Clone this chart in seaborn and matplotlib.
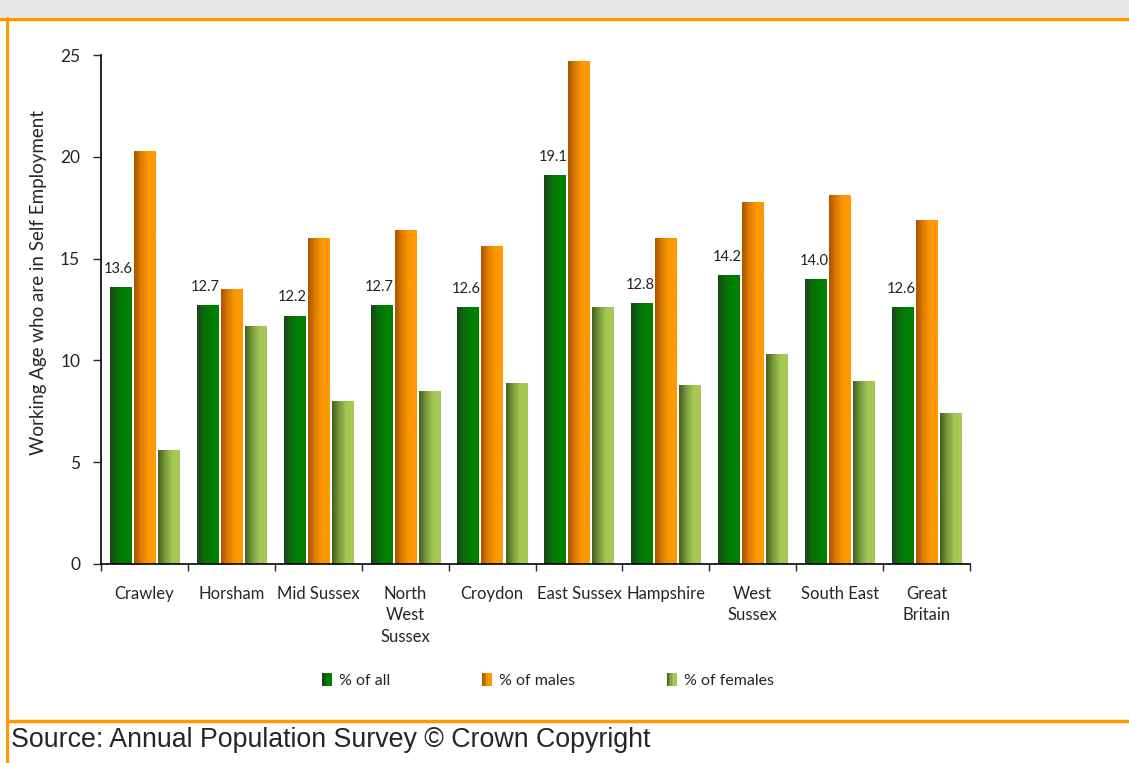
import numpy as np
import pandas as pd
import matplotlib
matplotlib.use('Agg')
import matplotlib.pyplot as plt
import seaborn as sns
from matplotlib.colors import LinearSegmentedColormap
from matplotlib.patches import Rectangle, Patch
from matplotlib.legend_handler import HandlerBase

# ---------------------------------------------------------------------------
# Data
# ---------------------------------------------------------------------------
areas = ['Crawley', 'Horsham', 'Mid Sussex', 'North\nWest\nSussex', 'Croydon',
         'East Sussex', 'Hampshire', 'West\nSussex', 'South East', 'Great\nBritain']
pct_all = [13.6, 12.7, 12.2, 12.7, 12.6, 19.1, 12.8, 14.2, 14.0, 12.6]
pct_males = [20.3, 13.5, 16.0, 16.4, 15.6, 24.7, 16.0, 17.8, 18.1, 16.9]
pct_females = [5.6, 11.7, 8.0, 8.5, 8.9, 12.6, 8.8, 10.3, 9.0, 7.4]
series = ['% of all', '% of males', '% of females']

# gradient (left -> right) for each series
GRADIENTS = {
    '% of all': ['#1b421b', '#0a6e0a', '#008000', '#008000'],
    '% of males': ['#a85400', '#e07f00', '#ff9900', '#ff9900'],
    '% of females': ['#455d22', '#7a9c3c', '#a6c854', '#a6c854'],
}

df = pd.DataFrame({'area': areas * 3,
                   'value': pct_all + pct_males + pct_females,
                   'series': np.repeat(series, len(areas))})

FONT = ['Lato', 'DejaVu Sans']

sns.set_style('white')
plt.rcParams['font.family'] = FONT

fig = plt.figure(figsize=(11.29, 7.63), dpi=100)
ax = fig.add_axes([101 / 1129, 1 - 564 / 763, 869 / 1129, 509 / 763])

palette = {s: GRADIENTS[s][2] for s in series}
sns.barplot(data=df, x='area', y='value', hue='series', order=areas,
            hue_order=series, palette=palette, width=0.83, gap=0.12,
            saturation=1, legend=False, ax=ax)

# replace flat fills with a horizontal gradient clipped to each bar
grad = np.linspace(0, 1, 64).reshape(1, -1)
for container, s in zip(ax.containers, series):
    cmap = LinearSegmentedColormap.from_list(s, GRADIENTS[s])
    for bar in container:
        x0, w, h = bar.get_x(), bar.get_width(), bar.get_height()
        im = ax.imshow(grad, extent=[x0, x0 + w, 0, h], aspect='auto',
                       cmap=cmap, interpolation='bicubic', zorder=2)
        im.set_clip_path(bar)
        bar.set_facecolor('none')
        bar.set_edgecolor('none')

# value labels only on the "% of all" series
for bar, v in zip(ax.containers[0], pct_all):
    ax.text(bar.get_x() + bar.get_width() / 2 - 0.02, v + 0.55, f'{v:.1f}',
            ha='center', va='bottom', fontsize=10.5, color='#222222', zorder=3)

ax.set_xlim(-0.5, len(areas) - 0.5)
ax.set_ylim(0, 25)
ax.set_yticks([0, 5, 10, 15, 20, 25])
ax.set_xticks(np.arange(-0.5, len(areas)), [''] * (len(areas) + 1))
ax.set_xticks(np.arange(len(areas)), areas, minor=True)
ax.tick_params(axis='x', which='major', length=5, width=1, direction='out', bottom=True)
ax.tick_params(axis='x', which='minor', length=0, pad=16, labelsize=12)
ax.tick_params(axis='y', length=6, width=1, direction='out', left=True, labelsize=12.5, pad=9)
for lab in ax.get_xticklabels(minor=True):
    lab.set_linespacing(1.4)
    lab.set_verticalalignment('top')

for side in ['top', 'right']:
    ax.spines[side].set_visible(False)
for side in ['left', 'bottom']:
    ax.spines[side].set_color('black')
    ax.spines[side].set_linewidth(1.2)

ax.set_xlabel('')
ax.set_ylabel('Working Age who are in Self Employment', fontsize=13.5)
ax.yaxis.set_label_coords(-0.0625, 0.554)


# legend with small gradient swatches
class GradientHandler(HandlerBase):
    def create_artists(self, legend, orig_handle, xdescent, ydescent,
                       width, height, fontsize, trans):
        cols = GRADIENTS[orig_handle.get_label()]
        cmap = LinearSegmentedColormap.from_list('h', cols)
        n = 8
        arts = []
        for i in range(n):
            arts.append(Rectangle((xdescent + width * i / n, ydescent - 1),
                                  width / n + 0.2, height + 2,
                                  facecolor=cmap(i / (n - 1)), edgecolor='none',
                                  transform=trans))
        return arts


handles = [Patch(label=s) for s in series]
fig.legend(handles=handles, labels=series, loc='center', ncol=3,
           bbox_to_anchor=(548 / 1129, 1 - 681 / 763), frameon=False,
           fontsize=11.5, handlelength=0.6, handleheight=0.7,
           handletextpad=0.45, columnspacing=5.75,
           handler_map={Patch: GradientHandler()})

# frame decorations: grey title band, orange rules
fig.patches.append(Rectangle((0, 1 - 17 / 763), 1, 17 / 763,
                             transform=fig.transFigure, facecolor='#e6e6e6',
                             edgecolor='none', zorder=0))
fig.add_artist(plt.Line2D([0, 1], [1 - 18.5 / 763] * 2, color='#ff9900', lw=2.5))
fig.add_artist(plt.Line2D([7 / 1129] * 2, [0, 1 - 18 / 763], color='#ff9900', lw=2.2))
fig.add_artist(plt.Line2D([7 / 1129, 1], [1 - 720.5 / 763] * 2, color='#ff9900', lw=2.5))

fig.text(11 / 1129, 1 - 740 / 763, 'Source: Annual Population Survey \u00a9 Crown Copyright',
         fontsize=19.3, family=['Liberation Sans', 'DejaVu Sans'], va='center', ha='left')

fig.savefig('out.png', dpi=100)
